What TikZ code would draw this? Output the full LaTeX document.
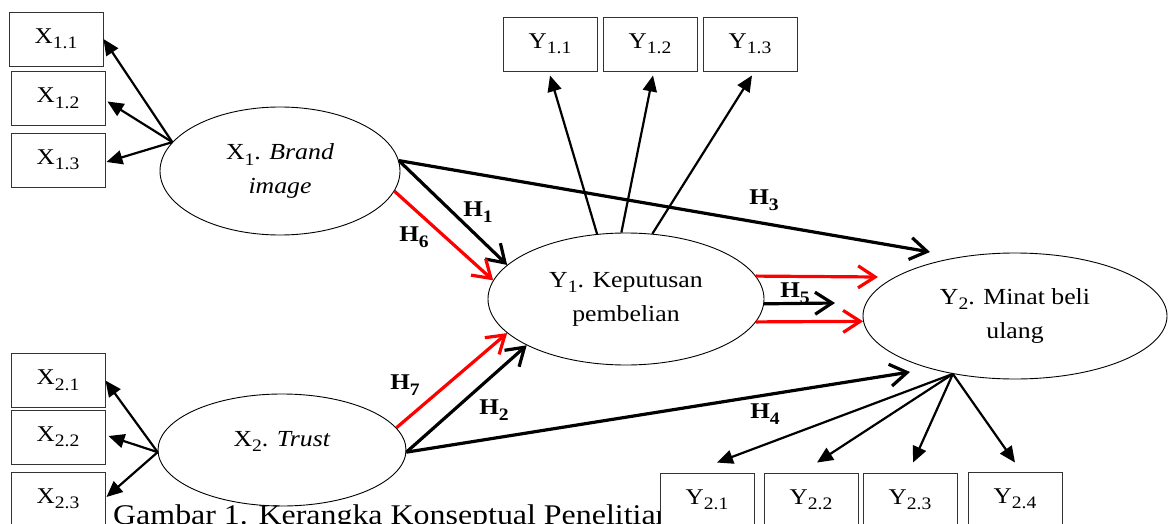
\documentclass[tikz,border=0pt]{standalone}
\usepackage{fontspec}
\setmainfont[FakeStretch=1.12]{Liberation Serif}
\usetikzlibrary{shapes.geometric,arrows.meta}
\newcommand\mySub[1]{\raisebox{-5.5pt}{\fontsize{17.5}{18}\selectfont #1}}
\newcommand\myNodeFont{\fontsize{23}{34}\selectfont}
\newcommand\myBoxFont{\fontsize{22.5}{26}\selectfont}
\newcommand\myHypFont{\fontsize{22.5}{26}\selectfont\bfseries}
\newcommand\myCapFont{\fontsize{28.5}{32}\selectfont}
\definecolor{hred}{RGB}{255,0,0}
\tikzset{
  box/.style={draw=black!80, line width=0.9pt, fill=white, minimum width=94pt,
    minimum height=54pt, inner sep=0pt, font=\myBoxFont},
  lat/.style={ellipse, draw=black, line width=0.9pt, inner sep=0pt, align=center,
    font=\myNodeFont},
  txt/.style={inner sep=0pt, font=\myNodeFont},
  capt/.style={inner sep=0pt, font=\myCapFont},
  hlab/.style={inner sep=0pt, font=\myHypFont},
  ind/.style={line width=2.2pt, -{Triangle[length=16pt,width=14pt]}},
  hyp/.style={line width=3.2pt, -{Straight Barb[length=17pt,width=22pt]}},
  hypred/.style={hyp, draw=hred}
}
\begin{document}
\begin{tikzpicture}[x=1pt,y=-1pt]
\useasboundingbox (0,0) rectangle (1169,524);
\clip (0,0) rectangle (1169,524);

% caption (partly covered by Y2.1 box)
\node[capt, anchor=base west] (cap) at (113,524) {Gambar 1. Kerangka Konseptual Penelitian};

% latent variables
\node[lat, minimum width=240pt, minimum height=128pt] (x1) at (280,171) {X\mySub{1}. \textit{Brand}\\\textit{image}};
\node[lat, minimum width=276pt, minimum height=132pt] (y1) at (626,299) {Y\mySub{1}. Keputusan\\pembelian};
\node[lat, minimum width=304pt, minimum height=126pt] (y2) at (1015,316) {Y\mySub{2}. Minat beli\\ulang};
\node[lat, minimum width=248pt, minimum height=112pt] (x2) at (282,450) {};
\node[txt, anchor=base] (x2t) at (282,446) {X\mySub{2}. \textit{Trust}};

% indicators
\node[box] (x11) at (56,39) {X\mySub{1.1}};
\node[box] (x12) at (58,98.5) {X\mySub{1.2}};
\node[box] (x13) at (58,160) {X\mySub{1.3}};
\node[box] (x21) at (58,380.5) {X\mySub{2.1}};
\node[box] (x22) at (58,437) {X\mySub{2.2}};
\node[box] (x23) at (58,499) {X\mySub{2.3}};
\node[box] (y11) at (550,44) {Y\mySub{1.1}};
\node[box] (y12) at (650,44) {Y\mySub{1.2}};
\node[box] (y13) at (750,44) {Y\mySub{1.3}};
\node[box] (y21) at (707,500) {Y\mySub{2.1}};
\node[box] (y22) at (811,500) {Y\mySub{2.2}};
\node[box] (y23) at (910,500) {Y\mySub{2.3}};
\node[box] (y24) at (1015,499) {Y\mySub{2.4}};

% indicator arrows
\draw[ind] (x1.165) -- (x11.east);
\draw[ind] (x1.165) -- ([shift={(2,3)}]x12.east);
\draw[ind] (x1.165) -- ([shift={(1,2)}]x13.east);
\draw[ind] (x2.181) -- (x21.east);
\draw[ind] (x2.181) -- ([shift={(3,-1)}]x22.east);
\draw[ind] (x2.181) -- ([shift={(1,-2)}]x23.east);
\draw[ind] (y1.114) -- ([shift={(0,4)}]y11.south);
\draw[ind] (y1.94) -- ([shift={(3,4)}]y12.south);
\draw[ind] (y1.68) -- ([shift={(2,4)}]y13.south);
\draw[ind] (y2.223) -- ([shift={(10,-10)}]y21.north);
\draw[ind] (y2.223) -- ([shift={(6,-10)}]y22.north);
\draw[ind] (y2.223) -- ([shift={(3,-10)}]y23.north);
\draw[ind] (y2.223) -- ([shift={(0,-9)}]y24.north);

% free ends of hypothesis arrows
\coordinate (h3e) at (930,252);
\coordinate (h4e) at (910,372);
\coordinate (h5e) at (835,303);
\coordinate (r1e) at (878,277);

% hypothesis arrows
\draw[hyp] (x1.5) -- (y1.164);
\draw[hyp] (x1.5) -- (h3e);
\draw[hypred] (x1.-10) -- (y1.172);
\draw[hypred] (x2.11) -- (y1.196);
\draw[hyp] (x2.-1) -- (y1.205);
\draw[hyp] (x2.-1) -- (h4e);
\draw[hyp] (y1.-2) -- (h5e);
\draw[hypred] (y1.10) -- (r1e);
\draw[hypred] (y1.-10) -- (y2.182);

% hypothesis labels
\node[hlab] (lh1) at (478,212) {H\mySub{1}};
\node[hlab] (lh6) at (414,237) {H\mySub{6}};
\node[hlab] (lh3) at (764,200) {H\mySub{3}};
\node[hlab] (lh5) at (795,293) {H\mySub{5}};
\node[hlab] (lh7) at (405,385) {H\mySub{7}};
\node[hlab] (lh2) at (494,410) {H\mySub{2}};
\node[hlab] (lh4) at (765,414) {H\mySub{4}};
\end{tikzpicture}
\end{document}
